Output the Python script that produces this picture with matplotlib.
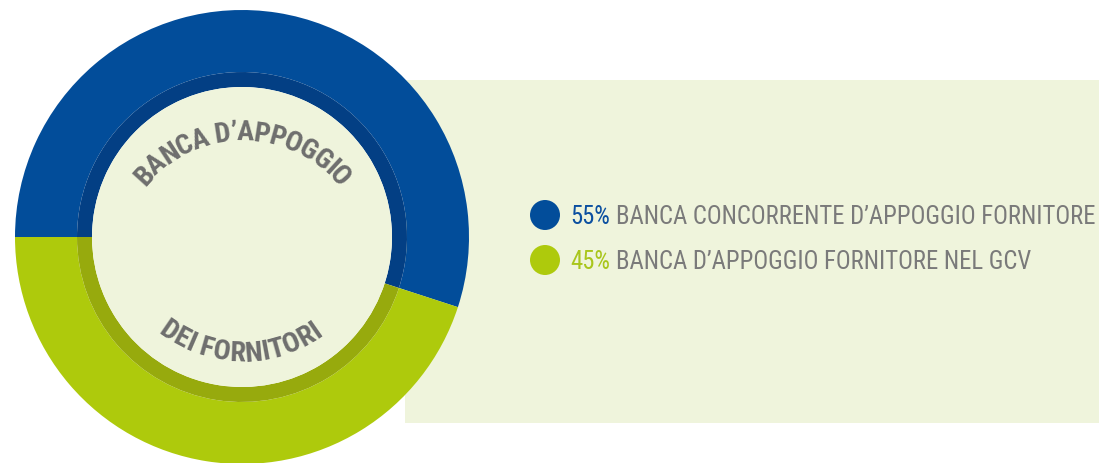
import numpy as np
import matplotlib
matplotlib.use('Agg')
import matplotlib.pyplot as plt
from matplotlib.patches import Wedge, Circle, Rectangle
from matplotlib.font_manager import FontProperties
from matplotlib.textpath import TextToPath

# data
shares = [55, 45]
pct_labels = ['55%', '45%']
labels = ["BANCA CONCORRENTE D\u2019APPOGGIO FORNITORE", "BANCA D\u2019APPOGGIO FORNITORE NEL GCV"]
ring_colors = ['#024d9a', '#aeca0c']
shade_colors = ['#033f84', '#97aa0d']
pct_colors = ['#0b4fa0', '#a9c61c']
title_top = "BANCA D\u2019APPOGGIO"
title_bottom = "DEI FORNITORI"

W, H = 1099, 464
fig = plt.figure(figsize=(W / 100, H / 100), dpi=100)
ax = fig.add_axes([0, 0, 1, 1])
ax.set_xlim(0, W)
ax.set_ylim(0, H)
ax.set_aspect('equal')
ax.axis('off')

bg = '#eff4dc'
gray = '#7a7a7a'
ax.add_patch(Rectangle((405, H - 424), W - 405, 343, color=bg, lw=0, zorder=0))

# donut: first slice starts at 9 o'clock and runs clockwise
cx, cy = 242, H - 238
r_out, r_shade, r_in = 227, 165, 150
start = 180.0
for share, col, dcol in zip(shares, ring_colors, shade_colors):
    span = share / sum(shares) * 360
    t1, t2 = start - span, start
    ax.add_patch(Wedge((cx, cy), r_out, t1, t2, width=r_out - r_shade, color=col, lw=0, zorder=1))
    ax.add_patch(Wedge((cx, cy), r_shade, t1, t2, width=r_shade - r_in, color=dcol, lw=0, zorder=1))
    start = t1
ax.add_patch(Circle((cx, cy), r_in, color=bg, lw=0, zorder=2))

# text along an arc, one glyph per text object
font = FontProperties(family='Roboto Condensed', weight='bold', size=20.5)
t2p = TextToPath()


def arc_text(s, ox, oy, r, a_first, a_last, top=True):
    mids = []
    for i in range(len(s)):
        w0 = t2p.get_text_width_height_descent(s[:i], font, ismath=False)[0] if i else 0
        w1 = t2p.get_text_width_height_descent(s[:i + 1], font, ismath=False)[0]
        mids.append(w0 + (w1 - w0) / 2)
    mids = np.array(mids)
    frac = (mids - mids[0]) / (mids[-1] - mids[0])
    for ch, f in zip(s, frac):
        if ch == ' ':
            continue
        ang = a_first + (a_last - a_first) * f
        rad = np.radians(ang)
        x, y = ox + r * np.cos(rad), oy + r * np.sin(rad)
        rot = ang - 90 if top else ang + 90
        ax.text(x, y, ch, fontproperties=font, color='#6e6e6e', rotation=rot,
                rotation_mode='anchor', ha='center', va='center', zorder=3)


arc_text(title_top, 242, H - 264, 131, 137.8, 41.9, top=True)
arc_text(title_bottom, 242, H - 223.5, 130.5, 235.5, 304.8, top=False)

# legend
fig.canvas.draw()
renderer = fig.canvas.get_renderer()
lfont = dict(family='Roboto Condensed', weight='normal', size=17.8)
for i, (p, lab, col) in enumerate(zip(pct_labels, labels, pct_colors)):
    yb = H - (224 + 45 * i)
    ax.add_patch(Circle((545, H - (216 + 45 * i)), 15, color=ring_colors[i], lw=0, zorder=3))
    t = ax.text(570, yb, p, color=col, va='baseline', ha='left', zorder=3, **lfont)
    bb = t.get_window_extent(renderer)
    ax.text(bb.x1 + 6, yb, lab, color=gray, va='baseline', ha='left', zorder=3, **lfont)

fig.savefig('out.png', dpi=100, facecolor='white')
